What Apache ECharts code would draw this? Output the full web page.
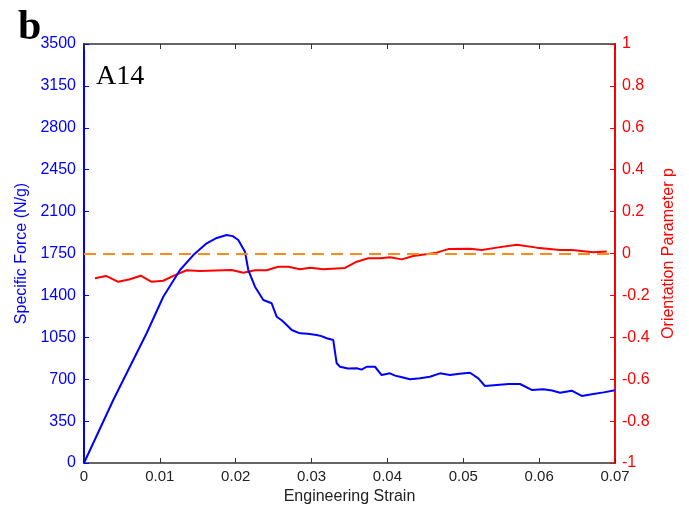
<!DOCTYPE html>
<html>
<head>
<meta charset="utf-8">
<script src="https://cdn.jsdelivr.net/npm/echarts@6/dist/echarts.min.js"></script>
<style>
  html, body { margin: 0; padding: 0; background: #fff; }
  #chart { width: 689px; height: 510px; }
</style>
</head>
<body>
<div id="chart"></div>
<script>
// 力-应变曲线 (蓝)
var forceStrain = [0, 0.00386, 0.00827, 0.01045, 0.01266, 0.01441, 0.01617, 0.01750, 0.01881, 0.01960, 0.02034, 0.02122, 0.02166, 0.02254, 0.02364, 0.02474, 0.0254, 0.02610, 0.02672, 0.02738, 0.02847, 0.02950, 0.03067, 0.03130, 0.03199, 0.03286, 0.03331, 0.03375, 0.03480, 0.03595, 0.03660, 0.03727, 0.03836, 0.03924, 0.04034, 0.04100, 0.04166, 0.04298, 0.04429, 0.04560, 0.04693, 0.04825, 0.04950, 0.05089, 0.05198, 0.05286, 0.0544, 0.05600, 0.05748, 0.05902, 0.06055, 0.06170, 0.06275, 0.06429, 0.06561, 0.06714, 0.06850, 0.07];
var force = [0, 526, 1086, 1389, 1612, 1737, 1835, 1880, 1905, 1895, 1863, 1765, 1612, 1473, 1362, 1334, 1222, 1190, 1153, 1111, 1083, 1080, 1069, 1060, 1042, 1027, 833, 804, 790, 791, 780, 804, 804, 735, 749, 730, 721, 699, 707, 720, 749, 735, 745, 754, 707, 643, 652, 660, 660, 610, 616, 605, 587, 604, 560, 576, 590, 607];

// 取向参数 p (红)
var pStrain = [0.00145, 0.0029, 0.00452, 0.00606, 0.00747, 0.00892, 0.01045, 0.012, 0.01354, 0.01529, 0.01947, 0.021, 0.02254, 0.02408, 0.02561, 0.02693, 0.02847, 0.02979, 0.03155, 0.03441, 0.03595, 0.03748, 0.03902, 0.04034, 0.04188, 0.04341, 0.04649, 0.04802, 0.05088, 0.05243, 0.0544, 0.05704, 0.05968, 0.06275, 0.06429, 0.06714, 0.06891];
var pValue = [-0.118, -0.107, -0.135, -0.123, -0.106, -0.135, -0.130, -0.103, -0.080, -0.084, -0.079, -0.092, -0.080, -0.080, -0.063, -0.063, -0.075, -0.068, -0.075, -0.069, -0.039, -0.023, -0.023, -0.018, -0.028, -0.012, 0.004, 0.021, 0.023, 0.017, 0.028, 0.042, 0.028, 0.017, 0.017, 0.006, 0.009];

var refLineP = 0;

var font = 'Liberation Sans';

function pairs(xs, ys) {
  var out = [];
  for (var i = 0; i < xs.length; i++) out.push([xs[i], ys[i]]);
  return out;
}

function plain(v) { return String(+v.toFixed(2)); }

var myChart = echarts.init(document.getElementById('chart'));
myChart.setOption({
  animation: false,
  grid: { left: 84, right: 74, top: 44, bottom: 47 },
  graphic: [
    { type: 'text', left: 18, top: 7, style: { text: 'b', font: 'bold 42px "Liberation Serif"', fill: '#000' } },
    { type: 'text', left: 96, top: 63, style: { text: 'A14', font: '28px "Liberation Serif"', fill: '#000' } }
  ],
  xAxis: [
    {
      type: 'value', min: 0, max: 0.07, interval: 0.01,
      name: 'Engineering Strain', nameLocation: 'middle', nameGap: 24,
      nameTextStyle: { fontFamily: font, fontSize: 16, color: '#222' },
      axisLine: { onZero: false, lineStyle: { color: '#333', width: 1.5 } },
      axisTick: { inside: true, length: 5, lineStyle: { color: '#333' } },
      axisLabel: { fontFamily: font, fontSize: 15, color: '#222', margin: 6, formatter: plain },
      splitLine: { show: false }
    },
    {
      type: 'value', min: 0, max: 0.07, interval: 0.01, position: 'top',
      axisLine: { onZero: false, lineStyle: { color: '#333', width: 1.5 } },
      axisTick: { inside: true, length: 5, lineStyle: { color: '#333' } },
      axisLabel: { show: false },
      splitLine: { show: false }
    }
  ],
  yAxis: [
    {
      type: 'value', min: 0, max: 3500, interval: 350, position: 'left',
      name: 'Specific Force (N/g)', nameLocation: 'middle', nameGap: 47,
      nameTextStyle: { fontFamily: font, fontSize: 16, color: '#0000ff' },
      axisLine: { show: true, onZero: false, lineStyle: { color: '#0000ff', width: 2 } },
      axisTick: { show: true, inside: true, length: 5, lineStyle: { color: '#0000ff' } },
      axisLabel: { fontFamily: font, fontSize: 16, color: '#0000ff', margin: 8, formatter: function (v) { return String(v); } },
      splitLine: { show: false }
    },
    {
      type: 'value', min: -1, max: 1, interval: 0.2, position: 'right',
      name: 'Orientation Parameter p', nameLocation: 'middle', nameGap: 40, nameRotate: 90,
      nameTextStyle: { fontFamily: font, fontSize: 16, color: '#ff0000' },
      axisLine: { show: true, onZero: false, lineStyle: { color: '#ff0000', width: 2 } },
      axisTick: { show: true, inside: true, length: 5, lineStyle: { color: '#ff0000' } },
      axisLabel: { fontFamily: font, fontSize: 16, color: '#ff0000', margin: 7, formatter: plain },
      splitLine: { show: false }
    }
  ],
  series: [
    {
      name: 'Specific Force', type: 'line', xAxisIndex: 0, yAxisIndex: 0,
      data: pairs(forceStrain, force), showSymbol: false,
      lineStyle: { color: '#0000ff', width: 2 }, z: 3
    },
    {
      name: 'Orientation Parameter', type: 'line', xAxisIndex: 0, yAxisIndex: 1,
      data: pairs(pStrain, pValue), showSymbol: false,
      lineStyle: { color: '#ff0000', width: 2 }, z: 2,
      markLine: {
        silent: true, symbol: 'none', label: { show: false },
        lineStyle: { color: '#ff8c1a', width: 2, type: [12, 7] },
        data: [{ yAxis: refLineP }]
      }
    }
  ]
});
</script>
</body>
</html>
